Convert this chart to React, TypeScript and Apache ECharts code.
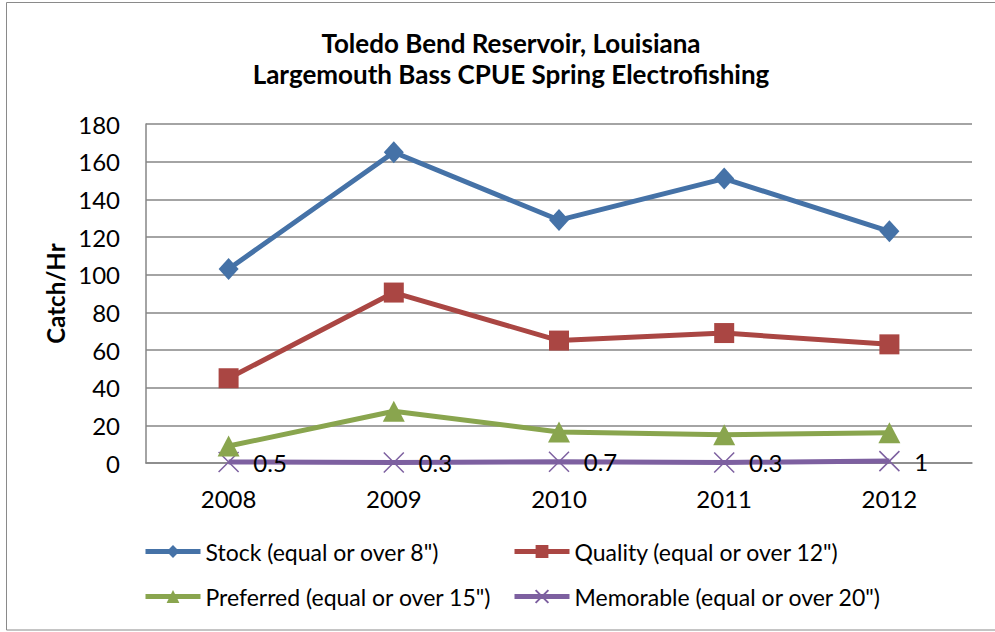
import React, { useEffect, useRef } from "react";
import * as echarts from "echarts";

const years = ["2008", "2009", "2010", "2011", "2012"];
const stock = [103, 165, 129, 151, 123];
const quality = [45, 90.5, 65, 69, 63];
const preferred = [9, 27.5, 16.5, 15, 16];
const memorable = [0.5, 0.3, 0.7, 0.3, 1];
const seriesNames = [
  'Stock (equal or over 8")',
  'Quality (equal or over 12")',
  'Preferred (equal or over 15")',
  'Memorable (equal or over 20")',
];
const titleText = "Toledo Bend Reservoir, Louisiana\nLargemouth Bass CPUE Spring Electrofishing";

const FONT = "Lato, 'Open Sans', sans-serif";
const colors = ["#4572A7", "#AA4643", "#89A54E", "#7D60A0"];

export default function App() {
  const ref = useRef<HTMLDivElement>(null);
  useEffect(() => {
    document.body.style.margin = "0";
    const chart = echarts.init(ref.current!, null, { renderer: "svg" });
    const legendPos = [
      { left: 143, top: 540 },
      { left: 512, top: 540 },
      { left: 143, top: 585 },
      { left: 512, top: 585 },
    ];
    const cross = "path://M0,0L10,10M10,0L0,10";
    const symbols = ["diamond", "rect", "triangle", cross];
    const symbolSizes: any[] = [[20, 22], [20, 20], [22, 21], [20, 20]];
    const data = [stock, quality, preferred, memorable];
    chart.setOption({
      animation: false,
      color: colors,
      title: {
        text: titleText,
        left: 506,
        textAlign: "center",
        top: 22,
        textStyle: { fontFamily: FONT, fontWeight: "bold", fontSize: 26, lineHeight: 31, color: "#000" },
      },
      graphic: [
        {
          type: "rect",
          shape: { x: 6.5, y: 2.5, width: 995, height: 627.5 },
          style: { fill: "none", stroke: "#8a8a8a", lineWidth: 1 },
          silent: true,
        },
      ],
      legend: seriesNames.map((n, i) => ({
        data: [n],
        left: legendPos[i].left,
        top: legendPos[i].top,
        itemWidth: 55,
        itemHeight: 16,
        itemGap: 0,
        padding: 0,
        lineStyle: { width: 5 },
        textStyle: { fontFamily: FONT, fontSize: 23, color: "#000" },
      })),
      grid: { left: 146, top: 124, right: 23, bottom: 169, containLabel: false },
      xAxis: {
        type: "category",
        data: years,
        boundaryGap: true,
        axisLine: { lineStyle: { color: "#868686", width: 1.5 } },
        axisTick: { show: false },
        axisLabel: { fontFamily: FONT, fontSize: 24, color: "#000", margin: 23 },
      },
      yAxis: {
        type: "value",
        min: 0,
        max: 180,
        interval: 20,
        name: "Catch/Hr",
        nameLocation: "middle",
        nameGap: 78,
        nameRotate: 90,
        nameTextStyle: { fontFamily: FONT, fontWeight: "bold", fontSize: 24, color: "#000" },
        axisLine: { show: true, lineStyle: { color: "#868686", width: 1.5 } },
        axisTick: { show: false },
        splitLine: { lineStyle: { color: "#868686", width: 1.5 } },
        axisLabel: { fontFamily: FONT, fontSize: 24, color: "#000", margin: 26 },
      },
      series: seriesNames.map((n, i) => ({
        name: n,
        type: "line",
        data: data[i],
        symbol: symbols[i],
        symbolSize: symbolSizes[i],
        showAllSymbol: true,
        lineStyle: { width: 5, color: colors[i] },
        itemStyle:
          i === 3
            ? { color: "rgba(0,0,0,0)", borderColor: colors[i], borderWidth: 1.5 }
            : { color: colors[i], borderWidth: 0 },
        label:
          i === 3
            ? { show: true, position: "right", distance: 14, fontFamily: FONT, fontSize: 24, color: "#000" }
            : { show: false },
        z: 10 - i,
      })),
    });
    return () => chart.dispose();
  }, []);
  return (
    <div
      ref={ref}
      style={{ position: "absolute", left: 0, top: 0, width: 995, height: 632, background: "#fff" }}
    />
  );
}
